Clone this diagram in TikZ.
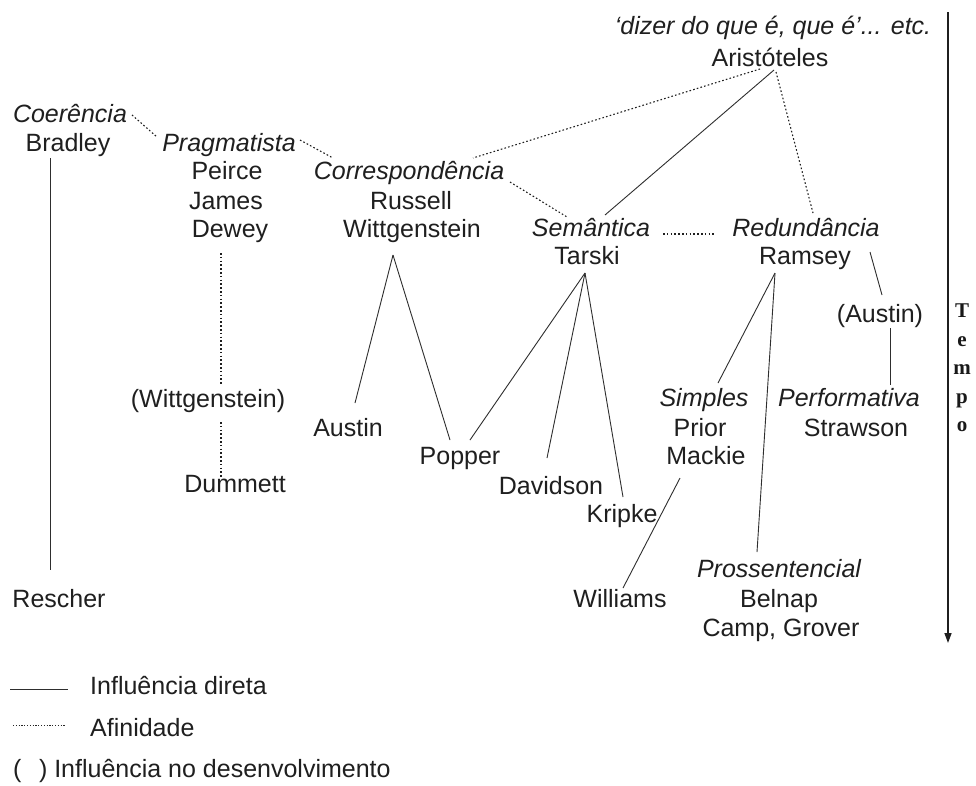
\documentclass[tikz,border=0pt]{standalone}
\usepackage{fontspec}
\setmainfont{Liberation Sans}
\newfontfamily\tempofont{Liberation Serif}
\usetikzlibrary{arrows.meta}
\begin{document}
\begin{tikzpicture}[x=1pt,y=-1pt,
  lbl/.style={inner sep=0pt, anchor=base, font=\fontsize{25}{29}\selectfont, text=black!88},
  ilbl/.style={lbl, font=\fontsize{25}{29}\selectfont\itshape},
  direct/.style={draw=black!82, line width=0.9pt},
  affin/.style={draw=black!88, line width=1.1pt, dash pattern=on 1.6pt off 2.2pt}]
\useasboundingbox[fill=white] (0,0) rectangle (976,785);

% ---- labels ----
\node[ilbl] (quote) at (773,34) {‘dizer do que é, que é’... etc.};
\node[lbl] (arist) at (770,66) {Aristóteles};
\node[ilbl] (coer) at (70,122) {Coerência};
\node[lbl] (bradley) at (68,151) {Bradley};
\node[ilbl] (prag) at (229,151) {Pragmatista};
\node[lbl] (peirce) at (227,179) {Peirce};
\node[lbl] (james) at (226,209) {James};
\node[lbl] (dewey) at (230,237) {Dewey};
\node[ilbl] (corr) at (409,179) {Correspondência};
\node[lbl] (russell) at (411,209) {Russell};
\node[lbl] (wittg) at (412,237) {Wittgenstein};
\node[ilbl] (sem) at (591,236) {Semântica};
\node[lbl] (tarski) at (587,264) {Tarski};
\node[ilbl] (red) at (806,236) {Redundância};
\node[lbl] (ramsey) at (805,264) {Ramsey};
\node[lbl] (austinP) at (880,322) {(Austin)};
\node[lbl] (wittgP) at (208,407) {(Wittgenstein)};
\node[lbl] (austin) at (348,436) {Austin};
\node[lbl] (popper) at (460,464) {Popper};
\node[lbl] (dummett) at (235,492) {Dummett};
\node[lbl] (davidson) at (551,494) {Davidson};
\node[lbl] (kripke) at (622,522) {Kripke};
\node[ilbl] (simples) at (704,406) {Simples};
\node[lbl] (prior) at (700,436) {Prior};
\node[lbl] (mackie) at (706,464) {Mackie};
\node[ilbl] (perf) at (849,406) {Performativa};
\node[lbl] (strawson) at (856,436) {Strawson};
\node[lbl] (rescher) at (59,607) {Rescher};
\node[lbl] (williams) at (620,607) {Williams};
\node[ilbl] (pross) at (779,577) {Prossentencial};
\node[lbl] (belnap) at (779,607) {Belnap};
\node[lbl] (camp) at (781,636) {Camp, Grover};

% ---- connector end points ----
\coordinate (aristL) at (760,69);
\coordinate (aristM) at (774,70);
\coordinate (aristR) at (776,72);
\coordinate (corrT) at (473,158);
\coordinate (corrR) at (510,182);
\coordinate (corrL) at (333,158);
\coordinate (semT) at (567,217);
\coordinate (semTr) at (605,215);
\coordinate (semE) at (663,234);
\coordinate (redW) at (714,234);
\coordinate (redT) at (813,213);
\coordinate (coerE) at (132,115);
\coordinate (pragW) at (157,137);
\coordinate (pragE) at (300,140);
\coordinate (bradB) at (50,158);
\coordinate (rescT) at (50,570);
\coordinate (deweyB) at (221,253);
\coordinate (wittgPT) at (221,385);
\coordinate (wittgPB) at (221,422);
\coordinate (dummT) at (221,478);
\coordinate (russB) at (393,255);
\coordinate (austinT) at (355,403);
\coordinate (popperL) at (450,440);
\coordinate (popperR) at (470,440);
\coordinate (tarskiB) at (585,273);
\coordinate (davT) at (547,458);
\coordinate (kripT) at (623,497);
\coordinate (ramseyB) at (775,273);
\coordinate (simpT) at (718,383);
\coordinate (prossT) at (757,552);
\coordinate (redR) at (870,252);
\coordinate (austinPT) at (882,295);
\coordinate (austinPB) at (890,328);
\coordinate (perfT) at (890,385);
\coordinate (mackB) at (680,478);
\coordinate (willT) at (623,588);

% ---- affinity (dotted) ----
\draw[affin] (coerE) -- (pragW);
\draw[affin] (pragE) -- (corrL);
\draw[affin] (aristL) -- (corrT);
\draw[affin] (corrR) -- (semT);
\draw[affin] (semE) -- (redW);
\draw[affin] (aristR) -- (redT);
\draw[affin] (deweyB) -- (wittgPT);
\draw[affin] (wittgPB) -- (dummT);

% ---- direct influence (solid) ----
\draw[direct] (aristM) -- (semTr);
\draw[direct] (bradB) -- (rescT);
\draw[direct] (russB) -- (austinT);
\draw[direct] (russB) -- (popperL);
\draw[direct] (tarskiB) -- (popperR);
\draw[direct] (tarskiB) -- (davT);
\draw[direct] (tarskiB) -- (kripT);
\draw[direct] (ramseyB) -- (simpT);
\draw[direct] (ramseyB) -- (prossT);
\draw[direct] (redR) -- (austinPT);
\draw[direct] (austinPB) -- (perfT);
\draw[direct] (mackB) -- (willT);

% ---- time axis ----
\coordinate (timeTop) at (948,12);
\coordinate (timeBot) at (948,643);
\draw[line width=1.5pt, black!88, -{Triangle[length=10pt,width=7pt]}] (timeTop) -- (timeBot);
\node[inner sep=0pt, anchor=north, align=center, text=black!90,
      font=\tempofont\bfseries\fontsize{21}{28.5}\selectfont] (tempo) at (962,304) {T\\e\\m\\p\\o};

% ---- legend ----
\coordinate (legA1) at (10,689);
\coordinate (legA2) at (68,689);
\coordinate (legB1) at (13,725);
\coordinate (legB2) at (65,725);
\draw[direct] (legA1) -- (legA2);
\draw[draw=black!85, line width=0.9pt, dash pattern=on 1.2pt off 1.6pt] (legB1) -- (legB2);
\node[lbl, anchor=base west] (legAt) at (90,694) {Influência direta};
\node[lbl, anchor=base west] (legBt) at (90,736) {Afinidade};
\node[lbl, anchor=base west] (legCt) at (13,777) {(\hspace{0.7em}) Influência no desenvolvimento};
\end{tikzpicture}
\end{document}
